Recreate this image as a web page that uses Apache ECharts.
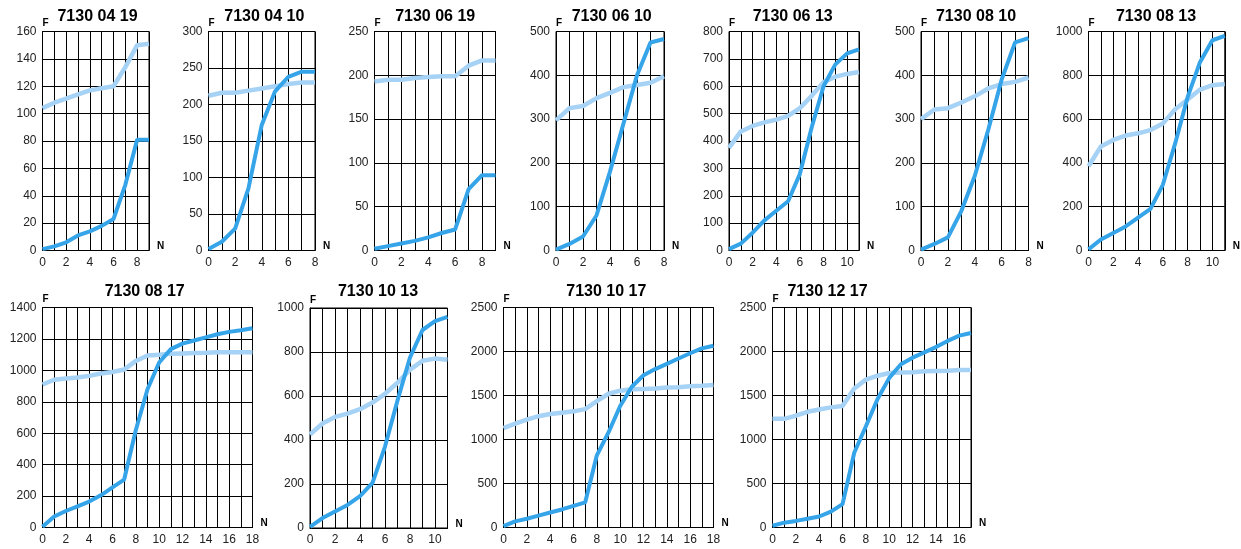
<!DOCTYPE html>
<html>
<head>
<meta charset="utf-8">
<script src="https://cdn.jsdelivr.net/npm/echarts@6/dist/echarts.min.js"></script>
<style>
html,body{margin:0;padding:0;background:#fff;}
#chart{width:1241px;height:549px;}
</style>
</head>
<body>
<div id="chart"></div>
<script>
// ---- data ----
const panelTitles = ['7130 04 19','7130 04 10','7130 06 19','7130 06 10','7130 06 13','7130 08 10','7130 08 13','7130 08 17','7130 10 13','7130 10 17','7130 12 17'];
const xMax  = [9, 8, 9, 8, 11, 8, 11, 18, 11, 18, 17];
const yMax  = [160, 300, 250, 500, 800, 500, 1000, 1400, 1000, 2500, 2500];
const yStep = [20, 50, 50, 100, 100, 100, 200, 200, 200, 500, 500];
const xLabelStep = 2;
const xAxisName = 'N';
const yAxisName = 'F';

const light_7130_04_19 = [104,108,111,114,117,118.5,120,134,150,151];
const dark_7130_04_19  = [1,3,6,11,14,18,23,48,81,81];
const light_7130_04_10 = [212,216,216,219,222,225,228,230,230];
const dark_7130_04_10  = [2,12,30,85,172,218,238,245,245];
const light_7130_06_19 = [193,195,195,197,198,199,199,211,217,217];
const dark_7130_06_19  = [2,5,8,11,15,20,24,70,86,86];
const light_7130_06_10 = [297,325,330,348,360,373,378,383,398];
const dark_7130_06_10  = [2,15,32,80,180,290,400,475,483];
const light_7130_06_13 = [375,435,455,468,478,492,520,565,615,635,645,652];
const dark_7130_06_13  = [5,25,65,110,145,180,280,450,600,680,720,735];
const light_7130_08_10 = [300,322,325,338,352,370,380,385,395];
const dark_7130_08_10  = [2,15,30,90,170,275,390,475,485];
const light_7130_08_13 = [385,475,505,525,535,550,580,645,690,735,755,760];
const dark_7130_08_13  = [5,50,80,110,150,190,300,490,700,860,960,980];
const light_7130_08_17 = [910,940,948,955,965,980,990,1005,1060,1095,1100,1105,1108,1110,1112,1115,1115,1116,1115];
const dark_7130_08_17  = [5,70,105,135,165,205,255,305,620,880,1050,1135,1170,1190,1210,1230,1245,1255,1268];
const light_7130_10_13 = [425,475,505,520,540,570,610,660,720,760,770,765];
const dark_7130_10_13  = [5,45,75,105,145,205,370,580,775,900,940,960];
const light_7130_10_17 = [1130,1180,1225,1265,1290,1305,1320,1345,1435,1520,1555,1570,1575,1580,1590,1595,1605,1610,1620];
const dark_7130_10_17  = [15,70,100,135,170,205,245,285,820,1080,1380,1600,1730,1800,1860,1920,1980,2035,2065];
const light_7130_12_17 = [1235,1235,1270,1315,1340,1365,1380,1580,1680,1725,1755,1760,1765,1775,1778,1780,1790,1790];
const dark_7130_12_17  = [20,55,75,100,125,180,265,850,1150,1460,1700,1855,1930,1990,2050,2120,2180,2210];

const lightSeries = [light_7130_04_19,light_7130_04_10,light_7130_06_19,light_7130_06_10,light_7130_06_13,light_7130_08_10,light_7130_08_13,light_7130_08_17,light_7130_10_13,light_7130_10_17,light_7130_12_17];
const darkSeries  = [dark_7130_04_19,dark_7130_04_10,dark_7130_06_19,dark_7130_06_10,dark_7130_06_13,dark_7130_08_10,dark_7130_08_13,dark_7130_08_17,dark_7130_10_13,dark_7130_10_17,dark_7130_12_17];

// ---- layout (px) ----
const gridBoxes = [
  [42.5, 31.5, 106.5, 219],
  [208.5, 31.5, 106.5, 219],
  [374.5, 31.5, 121, 219],
  [556, 31.5, 108, 219],
  [729, 31.5, 130, 219],
  [921, 31.5, 107.5, 219],
  [1088.5, 31.5, 136.5, 219],
  [42.5, 307.5, 210, 220],
  [310, 308, 137.5, 220],
  [503.5, 307.5, 210, 220],
  [772.5, 307.5, 198.5, 220]
];
const titlePos = [
  [97.5,16.5],[264.3,16.5],[435.2,16.5],[611.7,16.5],[792.7,16.5],[976,16.5],[1156,16.5],
  [144.7,292],[378,292],[606.3,292],[827.5,292]
];

const FONT = '"Liberation Sans", Arial, Helvetica, sans-serif';
const DARK = '#36a4e8';
const LIGHT = '#a6d2f5';

const grids = [], xAxes = [], yAxes = [], series = [], graphics = [];
gridBoxes.forEach((g, i) => {
  grids.push({left: g[0], top: g[1], width: g[2], height: g[3], show: true, borderColor: '#000', borderWidth: 1, backgroundColor: 'transparent', containLabel: false});
  xAxes.push({
    type: 'value', gridIndex: i, min: 0, max: xMax[i], interval: 1,
    name: xAxisName, nameLocation: 'end', nameGap: 8,
    nameTextStyle: {fontFamily: FONT, fontWeight: 'bold', fontSize: 10, color: '#000', verticalAlign: 'bottom', align: 'left', padding: [0, 0, -1, 0]},
    axisLine: {show: true, lineStyle: {color: '#000', width: 1}},
    axisTick: {show: false},
    splitLine: {show: true, lineStyle: {color: '#000', width: 1}},
    axisLabel: {
      fontFamily: FONT, fontSize: 12, color: '#222', margin: 6,
      showMaxLabel: true, showMinLabel: true,
      formatter: v => (Math.round(v) % xLabelStep === 0 ? String(Math.round(v)) : '')
    }
  });
  yAxes.push({
    type: 'value', gridIndex: i, min: 0, max: yMax[i], interval: yStep[i],
    name: yAxisName, nameLocation: 'end', nameGap: 3,
    nameTextStyle: {fontFamily: FONT, fontWeight: 'bold', fontSize: 10, color: '#000', align: 'left', verticalAlign: 'bottom'},
    axisLine: {show: true, lineStyle: {color: '#000', width: 1}},
    axisTick: {show: false},
    splitLine: {show: true, lineStyle: {color: '#000', width: 1}},
    axisLabel: {fontFamily: FONT, fontSize: 12, color: '#222', margin: 6, formatter: v => String(v)}
  });
  series.push({
    type: 'line', xAxisIndex: i, yAxisIndex: i, symbol: 'none', silent: true,
    lineStyle: {color: LIGHT, width: 4.5}, itemStyle: {color: LIGHT},
    data: lightSeries[i].map((v, k) => [k, v]), z: 2
  });
  series.push({
    type: 'line', xAxisIndex: i, yAxisIndex: i, symbol: 'none', silent: true,
    lineStyle: {color: DARK, width: 4}, itemStyle: {color: DARK},
    data: darkSeries[i].map((v, k) => [k, v]), z: 3
  });
  graphics.push({
    type: 'text', x: titlePos[i][0], y: titlePos[i][1],
    style: {text: panelTitles[i], font: 'bold 16px ' + FONT, fill: '#000', align: 'center', verticalAlign: 'middle'}
  });
});

const chart = echarts.init(document.getElementById('chart'), null, {renderer: 'canvas'});
chart.setOption({
  animation: false,
  backgroundColor: '#fff',
  grid: grids,
  xAxis: xAxes,
  yAxis: yAxes,
  series: series,
  graphic: graphics
});
</script>
</body>
</html>
